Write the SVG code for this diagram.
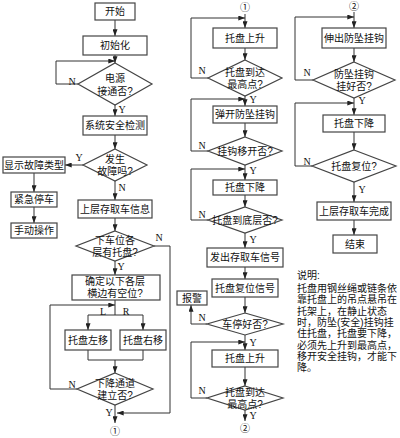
<svg xmlns="http://www.w3.org/2000/svg" width="400" height="438" viewBox="0 0 400 438">
<defs>
<marker id="a" viewBox="0 0 8 6" refX="8" refY="3" markerWidth="7" markerHeight="5" markerUnits="userSpaceOnUse" orient="auto"><path d="M0,0L8,3L0,6z" fill="#222"/></marker>
</defs>
<style>
.b{fill:#fff;stroke:#444;stroke-width:1.2}
.t{font-family:"Liberation Sans","Noto Sans CJK SC",sans-serif;font-size:10px;fill:#111;text-anchor:middle;dominant-baseline:central}
.l{fill:none;stroke:#333;stroke-width:1}
.la{fill:none;stroke:#333;stroke-width:1;marker-end:url(#a)}
.y{font-family:"Liberation Serif",serif;font-size:10px;fill:#111;text-anchor:middle;dominant-baseline:central}
.n{font-family:"Liberation Sans","Noto Sans CJK SC",sans-serif;font-size:10px;fill:#111}
</style>
<rect width="400" height="438" fill="#fff"/>
<g id="connectors">
<path class="la" d="M115,20V36"/>
<path class="la" d="M115,55V63"/>
<path class="la" d="M78,84H56V61H115"/>
<path class="la" d="M115,105V116"/>
<path class="la" d="M115,135V149"/>
<path class="la" d="M83,165H65"/>
<path class="la" d="M34,173V192"/>
<path class="la" d="M34,207V223"/>
<path class="la" d="M115,181V200"/>
<path class="la" d="M115,218V231"/>
<path class="la" d="M154,246H170V413H117"/>
<path class="la" d="M115,261V275"/>
<path class="l" d="M115,300V315M88,315H143"/>
<path class="la" d="M88,315V330"/>
<path class="la" d="M143,315V330"/>
<path class="l" d="M88,350V360H143V350"/>
<path class="la" d="M115,360V373"/>
<path class="la" d="M77,389H50V305H115"/>
<path class="la" d="M115,405V423"/>
<path class="la" d="M245,14V28"/>
<path class="la" d="M208,78H191V18H245"/>
<path class="la" d="M245,48V60"/>
<path class="la" d="M245,96V106"/>
<path class="la" d="M208,151H191V99H245"/>
<path class="la" d="M245,123V137"/>
<path class="la" d="M245,165V180"/>
<path class="la" d="M208,220H191V169H245"/>
<path class="la" d="M245,195V207"/>
<path class="la" d="M245,233V248"/>
<path class="la" d="M245,267V279"/>
<path class="la" d="M245,297V313"/>
<path class="la" d="M207,324H191V305"/>
<path class="la" d="M245,335V350"/>
<path class="la" d="M207,398H191V342H245"/>
<path class="la" d="M245,367V386"/>
<path class="la" d="M245,410V421"/>
<path class="la" d="M354,12V28"/>
<path class="la" d="M313,80H295V17H354"/>
<path class="la" d="M354,48V62"/>
<path class="la" d="M354,98V115"/>
<path class="la" d="M312,166H295V103H354"/>
<path class="la" d="M354,132V150"/>
<path class="la" d="M354,182V202"/>
<path class="la" d="M354,220V235"/>
<g class="y">
<text x="72" y="81">N</text><text x="122" y="109">Y</text>
<text x="79" y="157">Y</text><text x="122" y="187">N</text>
<text x="159" y="237">N</text><text x="121" y="266">Y</text>
<text x="103" y="311">L</text><text x="126" y="311">R</text>
<text x="72" y="384">N</text><text x="109" y="412">Y</text>
<text x="202" y="70">N</text><text x="253" y="99">Y</text>
<text x="202" y="145">N</text><text x="253" y="170">Y</text>
<text x="202" y="214">N</text><text x="253" y="239">Y</text>
<text x="202" y="317">N</text><text x="253" y="342">Y</text>
<text x="202" y="390">N</text><text x="253" y="415">Y</text>
<text x="307" y="72">N</text><text x="362" y="100">Y</text>
<text x="307" y="161">N</text><text x="362" y="189">Y</text>
</g>
</g>
<g id="c1a"><text class="t" x="115" y="431" font-size="11">①</text></g>
<g id="c1b"><text class="t" x="245" y="7" font-size="11">①</text></g>
<g id="c2a"><text class="t" x="245" y="428" font-size="11">②</text></g>
<g id="c2b"><text class="t" x="354" y="6" font-size="11">②</text></g>
<g id="start"><rect class="b" x="95" y="3" width="40" height="17"/><text class="t" x="115" y="11.5">开始</text></g>
<g id="init"><rect class="b" x="83" y="36" width="64" height="19"/><text class="t" x="115" y="45.5">初始化</text></g>
<g id="power"><path class="b" d="M115,63L152,84L115,105L78,84z"/><text class="t" x="115" y="78">电源<tspan x="115" dy="13">接通否?</tspan></text></g>
<g id="check"><rect class="b" x="83" y="116" width="64" height="19"/><text class="t" x="115" y="125.5">系统安全检测</text></g>
<g id="fault"><path class="b" d="M115,149L147,165L115,181L83,165z"/><text class="t" x="115" y="159">发生<tspan x="115" dy="12">故障吗?</tspan></text></g>
<g id="showfault"><rect class="b" x="3" y="157" width="62" height="16"/><text class="t" x="34" y="165" font-size="9.5">显示故障类型</text></g>
<g id="estop"><rect class="b" x="11" y="192" width="46" height="15"/><text class="t" x="34" y="199.5">紧急停车</text></g>
<g id="manual"><rect class="b" x="11" y="223" width="46" height="15"/><text class="t" x="34" y="230.5">手动操作</text></g>
<g id="info"><rect class="b" x="78" y="200" width="74" height="18"/><text class="t" x="115" y="209">上层存取车信息</text></g>
<g id="hastray"><path class="b" d="M115,231L154,246L115,261L76,246z"/><text class="t" x="115" y="240">下车位各<tspan x="115" dy="12">层有托盘?</tspan></text></g>
<g id="space"><rect class="b" x="72" y="275" width="88" height="25"/><text class="t" x="115" y="281.5">确定以下各层<tspan x="115" dy="11.5">横边有空位?</tspan></text></g>
<g id="left"><rect class="b" x="65" y="330" width="46" height="20"/><text class="t" x="88" y="340">托盘左移</text></g>
<g id="right"><rect class="b" x="120" y="330" width="46" height="20"/><text class="t" x="143" y="340">托盘右移</text></g>
<g id="channel"><path class="b" d="M115,373L153,389L115,405L77,389z"/><text class="t" x="115" y="383">下降通道<tspan x="115" dy="12">建立否?</tspan></text></g>
<g id="up1"><rect class="b" x="213" y="28" width="64" height="20"/><text class="t" x="245" y="38">托盘上升</text></g>
<g id="top1"><path class="b" d="M245,60L282,78L245,96L208,78z"/><text class="t" x="245" y="72">托盘到达<tspan x="245" dy="12">最高点?</tspan></text></g>
<g id="openhook"><rect class="b" x="213" y="106" width="64" height="17"/><text class="t" x="245" y="114.5">弹开防坠挂钩</text></g>
<g id="hookmoved"><path class="b" d="M245,137L282,151L245,165L208,151z"/><text class="t" x="245" y="151">挂钩移开否?</text></g>
<g id="down1"><rect class="b" x="213" y="180" width="64" height="15"/><text class="t" x="245" y="187.5">托盘下降</text></g>
<g id="bottom"><path class="b" d="M245,207L282,220L245,233L208,220z"/><text class="t" x="245" y="220">托盘到底层否?</text></g>
<g id="signal"><rect class="b" x="207" y="248" width="76" height="19"/><text class="t" x="245" y="257.5">发出存取车信号</text></g>
<g id="reset"><rect class="b" x="212" y="279" width="66" height="18"/><text class="t" x="245" y="288">托盘复位信号</text></g>
<g id="parked"><path class="b" d="M245,313L283,324L245,335L207,324z"/><text class="t" x="245" y="324">车停好否?</text></g>
<g id="alarm"><rect class="b" x="177" y="291" width="30" height="14"/><text class="t" x="192" y="298">报警</text></g>
<g id="up2"><rect class="b" x="212" y="350" width="66" height="17"/><text class="t" x="245" y="358.5">托盘上升</text></g>
<g id="top2"><path class="b" d="M245,386L283,398L245,410L207,398z"/><text class="t" x="245" y="392">托盘到达<tspan x="245" dy="12">最高点?</tspan></text></g>
<g id="extend"><rect class="b" x="322" y="28" width="64" height="20"/><text class="t" x="354" y="38">伸出防坠挂钩</text></g>
<g id="hooked"><path class="b" d="M354,62L395,80L354,98L313,80z"/><text class="t" x="354" y="74">防坠挂钩<tspan x="354" dy="12">挂好否?</tspan></text></g>
<g id="down2"><rect class="b" x="323" y="115" width="62" height="17"/><text class="t" x="354" y="123.5">托盘下降</text></g>
<g id="resetq"><path class="b" d="M354,150L396,166L354,182L312,166z"/><text class="t" x="354" y="166">托盘复位?</text></g>
<g id="done"><rect class="b" x="317" y="202" width="74" height="18"/><text class="t" x="354" y="211">上层存取车完成</text></g>
<g id="end"><rect class="b" x="333" y="235" width="44" height="18"/><text class="t" x="355" y="244">结束</text></g>
<g id="note" class="n">
<text x="297" y="279">说明:<tspan x="297" dy="13">托盘用钢丝绳或链条依</tspan><tspan x="297" dy="11.3">靠托盘上的吊点悬吊在</tspan><tspan x="297" dy="11.3">托架上，在静止状态</tspan><tspan x="297" dy="11.3">时，防坠(安全)挂钩挂</tspan><tspan x="297" dy="11.3">住托盘，托盘要下降，</tspan><tspan x="297" dy="11.3">必须先上升到最高点，</tspan><tspan x="297" dy="11.3">移开安全挂钩，才能下</tspan><tspan x="297" dy="11.3">降。</tspan></text>
</g>
</svg>
